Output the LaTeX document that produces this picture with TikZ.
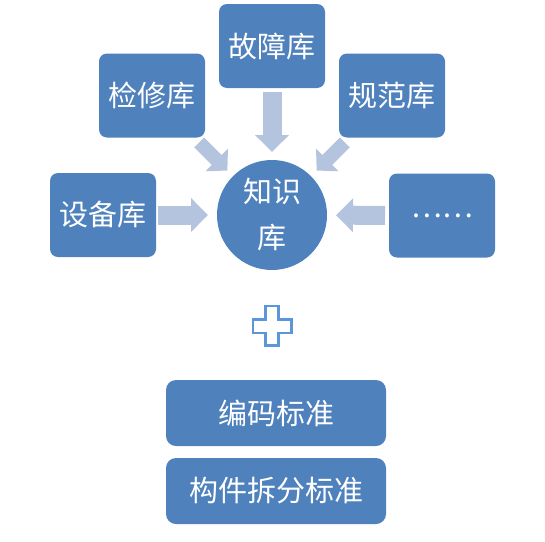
\documentclass[tikz,border=0pt]{standalone}
\usepackage{fontspec}
\setmainfont{Noto Sans CJK SC}
\usetikzlibrary{arrows.meta}
\definecolor{boxblue}{HTML}{4F81BD}
\definecolor{feedblue}{HTML}{B4C4DE}
\definecolor{plusblue}{HTML}{5B95DA}

\begin{document}
\begin{tikzpicture}[x=1pt, y=-1pt,
  every node/.style={text=white, font=\fontsize{29}{46}\selectfont, inner sep=0pt, outer sep=0pt},
  lib/.style={fill=boxblue, rounded corners=8pt, minimum width=106pt, minimum height=84pt},
  std/.style={fill=boxblue, rounded corners=10pt, minimum width=220pt, minimum height=66pt},
  hub/.style={circle, fill=boxblue, minimum size=110pt, align=center},
  feed/.style={draw=feedblue, line width=19pt, -{Triangle[length=17pt, width=33pt]}},
  slant/.style={draw=feedblue, line width=14pt, -{Triangle[length=15pt, width=31pt]}}]
\useasboundingbox (0,0) rectangle (545,541);

\node[hub] (zhishi) at (272,215) {知识\\库};

\node[lib] (guzhang) at (272,46) {故障库};
\node[lib] (jianxiu) at (152,95.5) {检修库};
\node[lib] (guifan) at (392,95.5) {规范库};
\node[lib] (shebei) at (103,215) {设备库};
\node[lib] (more) at (442,215.5) {……};

\draw[feed, shorten <=4pt, shorten >=8pt] (guzhang) -- (zhishi);
\draw[feed, shorten <=2pt, shorten >=9pt] (shebei) -- (zhishi);
\draw[feed, shorten <=4pt, shorten >=9pt] (more) -- (zhishi);
\draw[slant, shorten <=7pt, shorten >=8pt] (jianxiu) -- (zhishi);
\draw[slant, shorten <=7pt, shorten >=8pt] (guifan) -- (zhishi);

\draw[plusblue, line width=2.5pt, fill=white]
  (265.3,306.2) -- (278.7,306.2) -- (278.7,319.5) -- (291.5,319.5) -- (291.5,333)
  -- (278.7,333) -- (278.7,345.5) -- (265.3,345.5) -- (265.3,333) -- (253,333)
  -- (253,319.5) -- (265.3,319.5) -- cycle;

\node[std] (bianma) at (276,413) {编码标准};
\node[std] (goujian) at (276,491) {构件拆分标准};
\end{tikzpicture}
\end{document}
